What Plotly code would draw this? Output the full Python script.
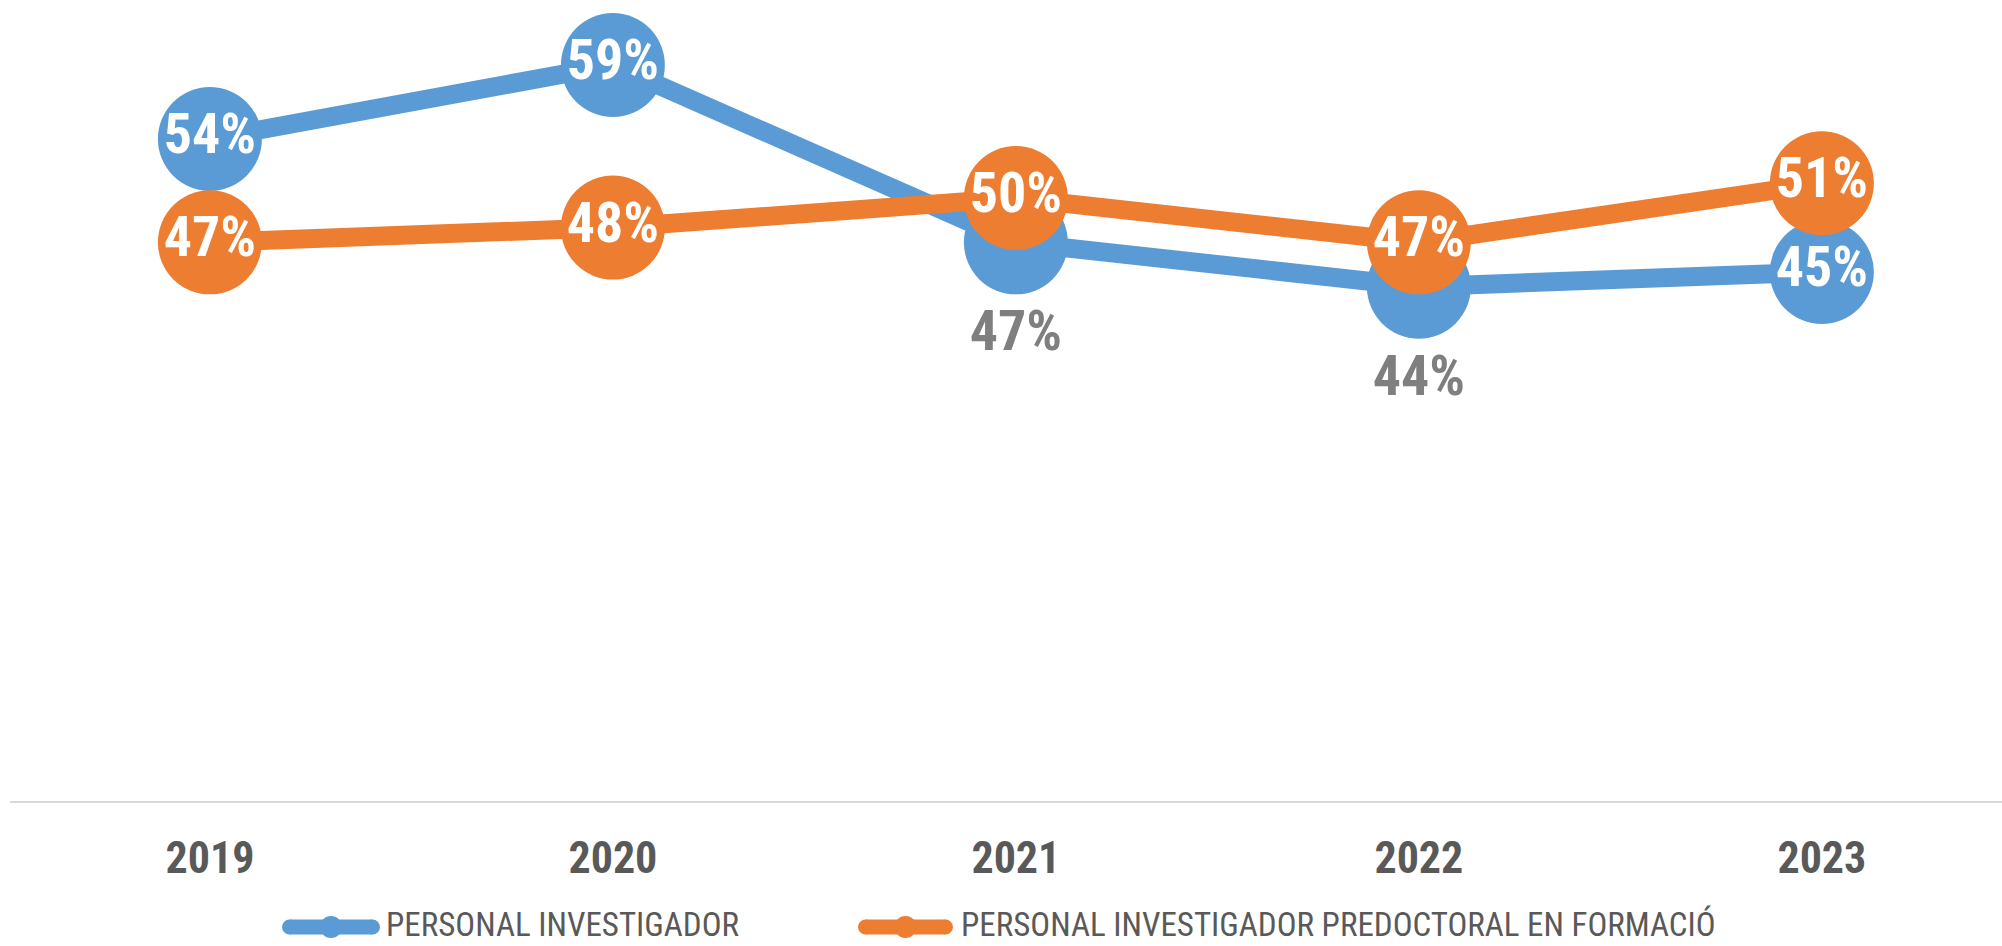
import plotly.graph_objects as go

years = ["2019", "2020", "2021", "2022", "2023"]
investigador = [0.54, 0.59, 0.47, 0.44, 0.45]
predoctoral = [0.47, 0.48, 0.50, 0.47, 0.51]
series_names = ["PERSONAL INVESTIGADOR", "PERSONAL INVESTIGADOR PREDOCTORAL EN FORMACIÓ"]

BLUE = "#5B9BD5"
ORANGE = "#ED7D31"
FONT = "Liberation Sans Narrow, Roboto Condensed, DejaVu Sans Condensed, Arial Narrow, sans-serif"

W, H = 2002, 946
ML, MR, MT, MB = 10, 0, 0, 145
PW, PH = W - ML - MR, H - MT - MB

# blue labels: inside markers except where overlapped by orange
blue_pos = ["middle center", "middle center", "bottom center", "bottom center", "middle center"]
blue_col = ["white", "white", "#7F7F7F", "#7F7F7F", "white"]

fig = go.Figure()
fig.add_trace(go.Scatter(
    x=years, y=investigador, name=series_names[0], mode="lines+markers+text",
    line=dict(color=BLUE, width=19),
    marker=dict(color=BLUE, size=104),
    texttemplate="%{y:.0%}", textposition=blue_pos,
    textfont=dict(family=FONT, size=56, color=blue_col, weight="bold"),
    showlegend=False, cliponaxis=False,
))
fig.add_trace(go.Scatter(
    x=years, y=predoctoral, name=series_names[1], mode="lines+markers+text",
    line=dict(color=ORANGE, width=19),
    marker=dict(color=ORANGE, size=104),
    texttemplate="%{y:.0%}", textposition="middle center",
    textfont=dict(family=FONT, size=56, color="white", weight="bold"),
    showlegend=False, cliponaxis=False,
))

def px_to_paper_x(px):
    return (px - ML) / PW

def px_to_paper_y(py):
    return (H - MB - py) / PH

def circle(cx, cy, r, col):
    return dict(type="circle", xref="paper", yref="paper",
                x0=px_to_paper_x(cx - r), x1=px_to_paper_x(cx + r),
                y0=px_to_paper_y(cy + r), y1=px_to_paper_y(cy - r),
                fillcolor=col, line=dict(width=0))

shapes = []
annotations = []
legend_items = [
    (series_names[0], BLUE, 282, 380, 385),
    (series_names[1], ORANGE, 858, 953, 960),
]
ly = 927
ty = 924
lw = 15
for name, col, x0, x1, tx in legend_items:
    r = lw / 2
    shapes.append(dict(type="line", xref="paper", yref="paper",
                       x0=px_to_paper_x(x0 + r), x1=px_to_paper_x(x1 - r),
                       y0=px_to_paper_y(ly), y1=px_to_paper_y(ly),
                       line=dict(color=col, width=lw)))
    shapes.append(circle(x0 + r, ly, r, col))
    shapes.append(circle(x1 - r, ly, r, col))
    shapes.append(circle((x0 + x1) / 2, ly, 11, col))
    annotations.append(dict(text=name, xref="paper", yref="paper",
                            x=px_to_paper_x(tx), y=px_to_paper_y(ty),
                            xanchor="left", yanchor="middle", showarrow=False,
                            borderpad=0,
                            font=dict(family=FONT, size=33, color="#595959")))

fig.update_layout(
    width=W, height=H,
    margin=dict(l=ML, r=MR, t=MT, b=MB),
    paper_bgcolor="white", plot_bgcolor="white",
    shapes=shapes, annotations=annotations,
    xaxis=dict(type="category", range=[-0.496, 4.447],
               showline=True, linecolor="#D9D9D9", linewidth=2,
               showgrid=False, zeroline=False,
               ticks="outside", ticklen=17, tickcolor="rgba(0,0,0,0)",
               tickfont=dict(family=FONT, size=44, color="#595959", weight="bold")),
    yaxis=dict(range=[0.092, 0.634], visible=False, showgrid=False, zeroline=False),
)

fig.write_html("out.html", config={"displayModeBar": False},
               post_script="document.body.style.margin='0';document.body.style.overflow='hidden';")
